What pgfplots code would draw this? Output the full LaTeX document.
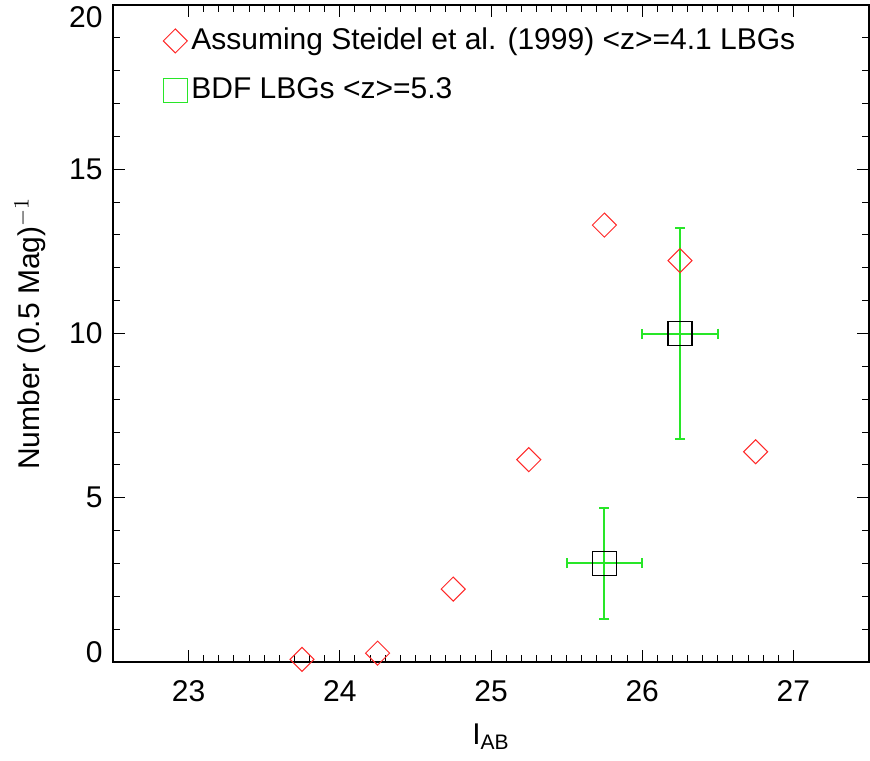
\documentclass[border=0pt]{standalone}
\usepackage{fontspec}
\setmainfont{Liberation Sans}
\usepackage{pgfplots}
\pgfplotsset{compat=1.18}
\definecolor{idlred}{RGB}{255,40,40}
\definecolor{idlgreen}{RGB}{40,230,40}
\begin{document}
\fontsize{15}{18}\selectfont
\begin{tikzpicture}
\useasboundingbox (-56.5pt,-49pt) rectangle (378.5pt,331pt);
\begin{axis}[
  scale only axis,
  width=378pt, height=328.5pt,
  xmin=22.5, xmax=27.5, ymin=0, ymax=20,
  xtick={23,24,25,26,27}, ytick={0,5,10,15,20},
  yticklabels={\raisebox{5pt}[\height][\depth]{0},5,10,15,\raisebox{-6pt}[\height][\depth]{20}},
  minor x tick num=9, minor y tick num=4,
  tick align=inside,
  major tick length=6pt, minor tick length=3.5pt,
  every tick/.style={black, line width=0.5pt},
  axis line style={line width=0.6pt},
  /pgf/number format/assume math mode=true,
  tick label style={font=\fontsize{15}{18}\selectfont},
  xticklabel style={yshift=-4pt},
  xlabel={I$_{\mathrm{AB}}$},
  ylabel={Number (0.5 Mag)$^{-1}$},
  xlabel style={at={(axis description cs:0.5,-0.114)}, anchor=center},
  ylabel style={at={(axis description cs:-0.11,0.5)}, anchor=center},
  legend style={at={(0.066,0.972)}, anchor=north west, draw=none, fill=none,
     font=\fontsize{15}{18}\selectfont, row sep=8pt, inner sep=0pt},
  legend cell align=left,
]
\addplot[only marks, mark=square, idlred, mark size=4.25pt, mark options={rotate=45, line width=0.5pt}]
  coordinates {(23.75,0.08) (24.25,0.27) (24.75,2.22) (25.25,6.16) (25.75,13.3) (26.25,12.22) (26.75,6.4)};
\addlegendentry{Assuming Steidel et al. (1999) <z>=4.1 LBGs}
\addlegendimage{only marks, mark=square, idlgreen, mark size=6pt, mark options={line width=0.5pt}}
\addlegendentry{BDF LBGs <z>=5.3}
\addplot[idlgreen, draw=none, mark=none, forget plot,
  error bars/.cd, x dir=both, y dir=both, x explicit, y explicit,
  error bar style={draw=idlgreen, line width=1pt},
  error mark options={rotate=90, draw=idlgreen, line width=1pt, mark size=2.5pt}]
  coordinates {(25.75,3.0) +- (0.25,1.7) (26.25,10.0) +- (0.25,3.2)};
\addplot[only marks, mark=square, black, mark size=6pt, mark options={line width=0.8pt}, forget plot]
  coordinates {(25.75,3.0) (26.25,10.0)};
\end{axis}
\end{tikzpicture}
\end{document}
